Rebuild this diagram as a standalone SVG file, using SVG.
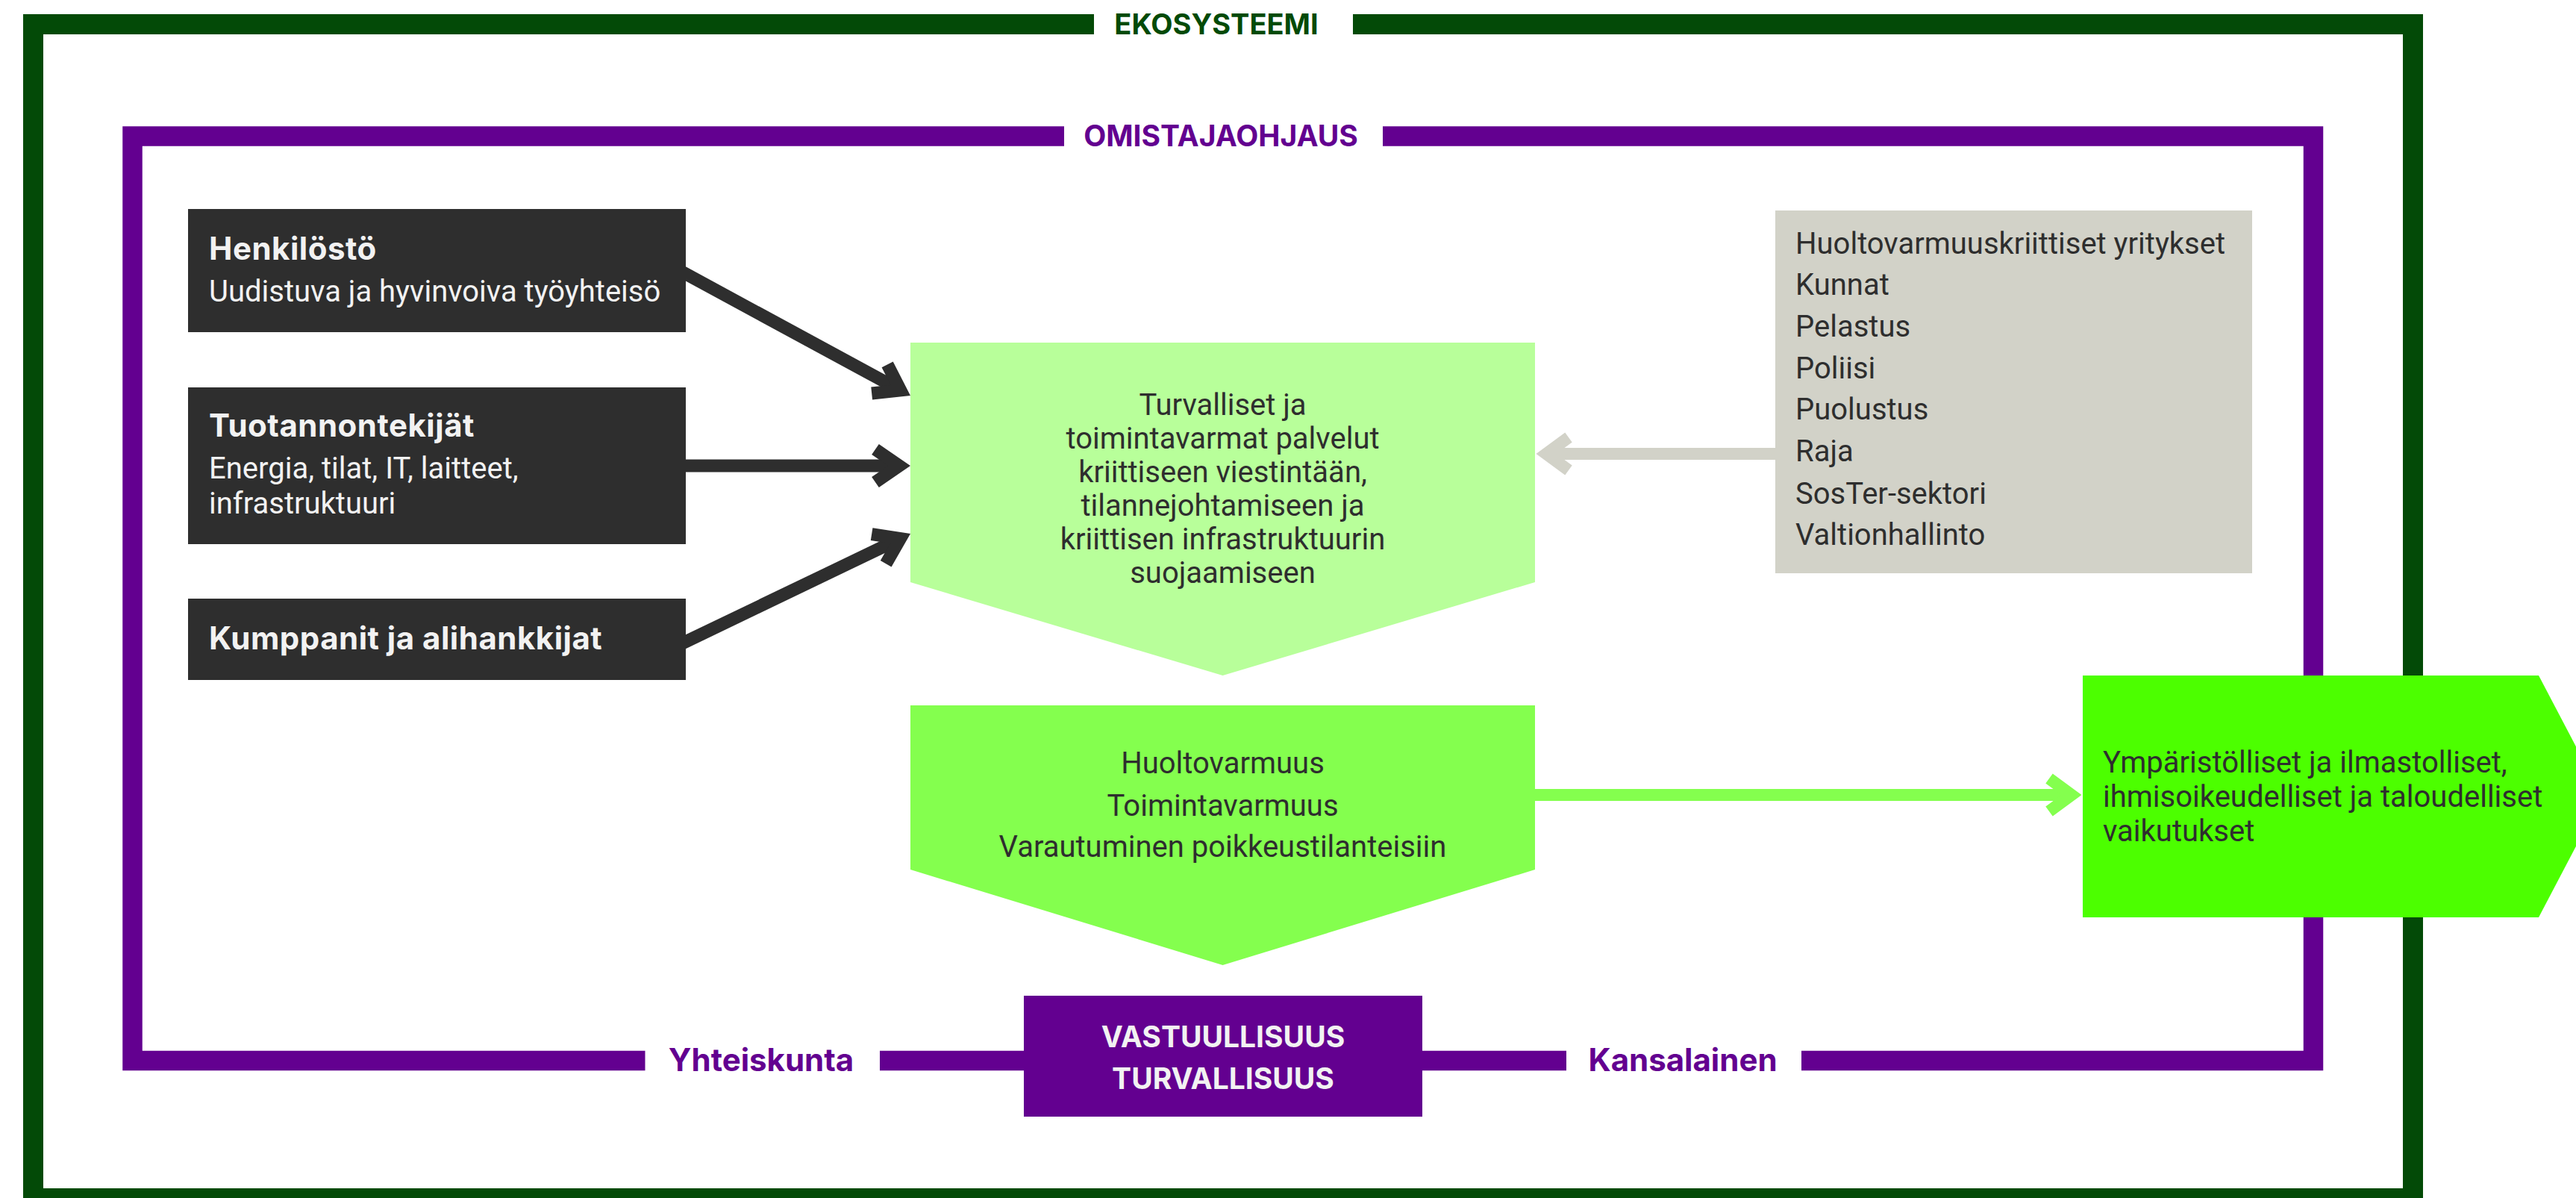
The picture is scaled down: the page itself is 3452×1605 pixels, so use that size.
<svg xmlns="http://www.w3.org/2000/svg" width="3452" height="1605" viewBox="0 0 3452 1605">
<defs>
<style>
.frame{fill:none;stroke-linejoin:miter}
.eco{stroke:#034a07;stroke-width:27}
.own{stroke:#630090;stroke-width:26.5}
.lbl{font-family:Inter,"Liberation Sans",sans-serif;font-weight:700;text-anchor:middle}
.head{font-family:Inter,"Liberation Sans",sans-serif;font-weight:700;font-size:42px;letter-spacing:0.5px;fill:#f2f2f2}
.body{font-family:Roboto,"Liberation Sans",sans-serif;font-size:40px;fill:#2e2e2e}
.sub{fill:#f2f2f2}
.mid{text-anchor:middle}
.dark{fill:#2e2e2e}
.conn{fill:none}
</style>
<marker id="ahDark" markerUnits="userSpaceOnUse" viewBox="-50 -40 80 80" markerWidth="80" markerHeight="80" refX="0" refY="0" orient="auto">
<path d="M-32,-22 L0,0 L-32,22" fill="none" stroke="#2e2e2e" stroke-width="17"/>
</marker>
<marker id="ahGray" markerUnits="userSpaceOnUse" viewBox="-50 -40 80 80" markerWidth="80" markerHeight="80" refX="0" refY="0" orient="auto">
<path d="M-30,-22 L0,0 L-30,22" fill="none" stroke="#d2d2c8" stroke-width="16"/>
</marker>
<marker id="ahGreen" markerUnits="userSpaceOnUse" viewBox="-50 -40 80 80" markerWidth="80" markerHeight="80" refX="0" refY="0" orient="auto">
<path d="M-30,-22 L0,0 L-30,22" fill="none" stroke="#84ff4e" stroke-width="16"/>
</marker>
</defs>
<rect width="3452" height="1605" fill="#ffffff"/>

<g id="ekosysteemi">
<path class="frame eco" d="M1466,32.5 H44.5 V1605.5 H3233.5 V32.5 H1813"/>
<text class="lbl" x="1630" y="46" font-size="38" fill="#034a07">EKOSYSTEEMI</text>
</g>

<g id="omistajaohjaus">
<path class="frame own" d="M1426,182.5 H177.5 V1421 H864.5 M1179,1421 H2099 M2414,1421 H3100 V182.5 H1853"/>
<text class="lbl" x="1636" y="196" font-size="39" fill="#630090">OMISTAJAOHJAUS</text>
<text class="lbl" x="1020" y="1435" font-size="42" fill="#630090">Yhteiskunta</text>
<text class="lbl" x="2255" y="1435" font-size="42" fill="#630090">Kansalainen</text>
</g>

<g id="connectors">
<path class="conn" d="M910,362 L1206.8,522.9" stroke="#2e2e2e" stroke-width="17" marker-end="url(#ahDark)"/>
<path class="conn" d="M910,624 L1205,624" stroke="#2e2e2e" stroke-width="17" marker-end="url(#ahDark)"/>
<path class="conn" d="M910,864 L1206.5,721.5" stroke="#2e2e2e" stroke-width="17" marker-end="url(#ahDark)"/>
<path class="conn" d="M2385,608 L2072,608" stroke="#d2d2c8" stroke-width="16" marker-end="url(#ahGray)"/>
<path class="conn" d="M2050,1065 L2776,1065" stroke="#84ff4e" stroke-width="16" marker-end="url(#ahGreen)"/>
</g>

<g id="henkilosto">
<rect x="252" y="280" width="667" height="165" class="dark"/>
<text class="head" x="280" y="348">Henkilöstö</text>
<text class="body sub" x="280" y="404">Uudistuva ja hyvinvoiva työyhteisö</text>
</g>

<g id="tuotannontekijat">
<rect x="252" y="519" width="667" height="210" class="dark"/>
<text class="head" x="280" y="585">Tuotannontekijät</text>
<text class="body sub" x="280" y="641">Energia, tilat, IT, laitteet,</text>
<text class="body sub" x="280" y="688">infrastruktuuri</text>
</g>

<g id="kumppanit">
<rect x="252" y="802" width="667" height="109" class="dark"/>
<text class="head" x="280" y="870">Kumppanit ja alihankkijat</text>
</g>

<g id="palvelut">
<polygon points="1220,459 2057,459 2057,780 1638.5,905 1220,780" fill="#b8ff9a"/>
<text class="body mid" x="1638.5" y="556">Turvalliset ja</text>
<text class="body mid" x="1638.5" y="601">toimintavarmat palvelut</text>
<text class="body mid" x="1638.5" y="646">kriittiseen viestintään,</text>
<text class="body mid" x="1638.5" y="691">tilannejohtamiseen ja</text>
<text class="body mid" x="1638.5" y="736">kriittisen infrastruktuurin</text>
<text class="body mid" x="1638.5" y="781">suojaamiseen</text>
</g>

<g id="toimijat">
<rect x="2379" y="282" width="639" height="486" fill="#d2d2c8"/>
<text class="body" x="2406" y="340">Huoltovarmuuskriittiset yritykset</text>
<text class="body" x="2406" y="395">Kunnat</text>
<text class="body" x="2406" y="451">Pelastus</text>
<text class="body" x="2406" y="507">Poliisi</text>
<text class="body" x="2406" y="562">Puolustus</text>
<text class="body" x="2406" y="618">Raja</text>
<text class="body" x="2406" y="675">SosTer-sektori</text>
<text class="body" x="2406" y="730">Valtionhallinto</text>
</g>

<g id="huoltovarmuus">
<polygon points="1220,945 2057,945 2057,1165 1638.5,1293 1220,1165" fill="#84ff4e"/>
<text class="body mid" x="1638.5" y="1036">Huoltovarmuus</text>
<text class="body mid" x="1638.5" y="1093">Toimintavarmuus</text>
<text class="body mid" x="1638.5" y="1148">Varautuminen poikkeustilanteisiin</text>
</g>

<g id="vaikutukset">
<polygon points="2791,905 3402,905 3487,1067 3402,1229 2791,1229" fill="#4cff00"/>
<text class="body" x="2818" y="1035">Ympäristölliset ja ilmastolliset,</text>
<text class="body" x="2818" y="1081">ihmisoikeudelliset ja taloudelliset</text>
<text class="body" x="2818" y="1127">vaikutukset</text>
</g>

<g id="arvot">
<rect x="1372" y="1334" width="534" height="162" fill="#630090"/>
<text class="lbl" x="1639" y="1403" font-size="39" fill="#f2f2f2">VASTUULLISUUS</text>
<text class="lbl" x="1639" y="1459" font-size="39" fill="#f2f2f2">TURVALLISUUS</text>
</g>
</svg>
